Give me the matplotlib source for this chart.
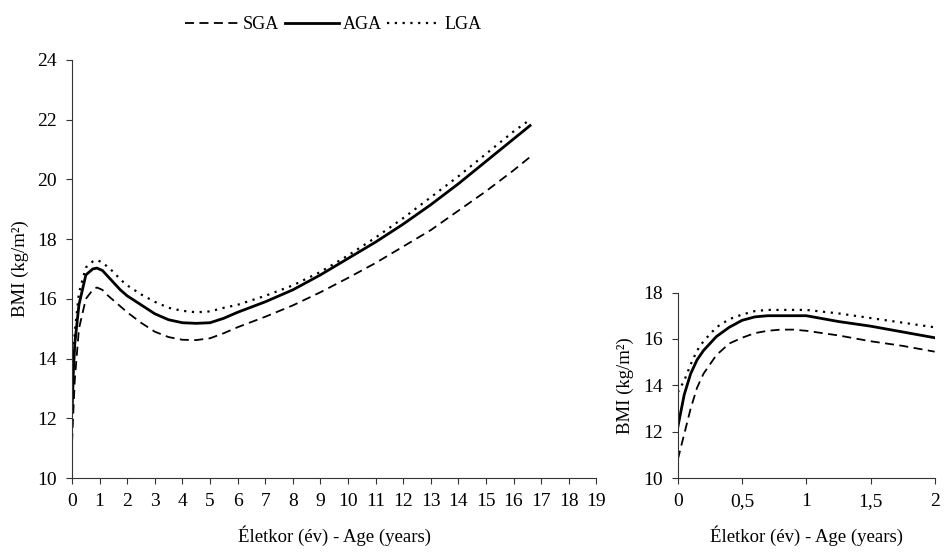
import matplotlib
matplotlib.use("Agg")
import matplotlib.pyplot as plt

plt.rcParams["font.family"] = ["Liberation Serif", "DejaVu Serif"]

# Growth curves 0-16.6 years
age = [0, 0.05, 0.1, 0.25, 0.5, 0.75, 0.9, 1.1, 1.25, 1.5, 1.75, 2, 2.5, 3, 3.5,
       4, 4.5, 5, 5.5, 6, 7, 8, 9, 10, 11, 12, 13, 14, 15, 16, 16.6]
sga = [11.2, 12.3, 13.3, 15.0, 16.0, 16.3, 16.38, 16.3, 16.15, 15.95, 15.75,
       15.55, 15.2, 14.9, 14.72, 14.63, 14.62, 14.68, 14.85, 15.05, 15.4, 15.78,
       16.22, 16.7, 17.2, 17.75, 18.3, 18.95, 19.6, 20.3, 20.75]
aga = [12.2, 13.6, 14.5, 15.8, 16.8, 17.0, 17.03, 16.95, 16.8, 16.55, 16.3,
       16.1, 15.8, 15.5, 15.3, 15.2, 15.18, 15.2, 15.35, 15.55, 15.9, 16.3,
       16.8, 17.35, 17.9, 18.5, 19.15, 19.85, 20.6, 21.35, 21.8]
lga = [13.7, 14.2, 14.9, 16.2, 17.05, 17.25, 17.3, 17.22, 17.1, 16.9, 16.65,
       16.45, 16.15, 15.9, 15.7, 15.6, 15.55, 15.58, 15.7, 15.8, 16.1, 16.45,
       16.9, 17.45, 18.05, 18.7, 19.4, 20.1, 20.85, 21.6, 22.0]

# Infant detail 0-2 years
age_inf = [0, 0.05, 0.1, 0.15, 0.2, 0.25, 0.3, 0.4, 0.5, 0.6, 0.7, 0.8, 0.9,
           1.0, 1.25, 1.5, 1.75, 2.0]
sga_inf = [10.8, 11.9, 13.0, 13.9, 14.5, 14.9, 15.3, 15.8, 16.05, 16.25, 16.35,
           16.4, 16.4, 16.35, 16.15, 15.9, 15.7, 15.45]
aga_inf = [12.2, 13.6, 14.5, 15.1, 15.5, 15.8, 16.1, 16.5, 16.8, 16.95, 17.0,
           17.0, 17.0, 17.0, 16.75, 16.55, 16.3, 16.05]
lga_inf = [13.7, 14.2, 14.9, 15.5, 15.9, 16.2, 16.5, 16.85, 17.05, 17.2, 17.25,
           17.25, 17.25, 17.25, 17.1, 16.9, 16.7, 16.5]

labels = ["SGA", "AGA", "LGA"]
inf_ticks = [0, 0.5, 1, 1.5, 2]
inf_ticklabels = ["0", "0,5", "1", "1,5", "2"]

styles = [
    dict(color="black", linestyle=(0, (5, 3)), linewidth=1.3),
    dict(color="black", linestyle="-", linewidth=2.0),
    dict(color="black", linestyle=(0, (1, 2.5)), linewidth=1.6),
]

fig = plt.figure(figsize=(9.48, 5.54), dpi=100)
ax1 = fig.add_axes([0.076, 0.137, 0.553, 0.755])
ax2 = fig.add_axes([0.715, 0.137, 0.271, 0.335])

handles = []
for ys, st, lab in zip([sga, aga, lga], styles, labels):
    h, = ax1.plot(age, ys, label=lab, **st)
    handles.append(h)
for ys, st in zip([sga_inf, aga_inf, lga_inf], styles):
    ax2.plot(age_inf, ys, **st)

ax1.set_xlim(0, 19)
ax1.set_ylim(10, 24)
ax1.set_xticks(range(0, 20))
ax1.set_yticks(range(10, 25, 2))

ax2.set_xlim(0, 2)
ax2.set_ylim(10, 18)
ax2.set_xticks(inf_ticks)
ax2.set_xticklabels(inf_ticklabels)
ax2.set_yticks(range(10, 19, 2))

for ax in (ax1, ax2):
    for s in ("top", "right"):
        ax.spines[s].set_visible(False)
    for s in ("left", "bottom"):
        ax.spines[s].set_linewidth(0.8)
        ax.spines[s].set_color("#333333")
    ax.tick_params(axis="both", labelsize=14, length=4, width=0.8,
                   color="#333333", pad=7)
    ax.set_xlabel("Életkor (év) - Age (years)", fontsize=13.5, labelpad=11)
    ax.set_ylabel("BMI (kg/m²)", fontsize=13.5, labelpad=6)

fig.legend(handles=handles, labels=labels, loc="upper center",
           bbox_to_anchor=(0.352, 1.0), ncol=3, frameon=False, fontsize=13,
           handlelength=3.0, handletextpad=0.2, columnspacing=0.3)

fig.savefig("out.png", dpi=100)
